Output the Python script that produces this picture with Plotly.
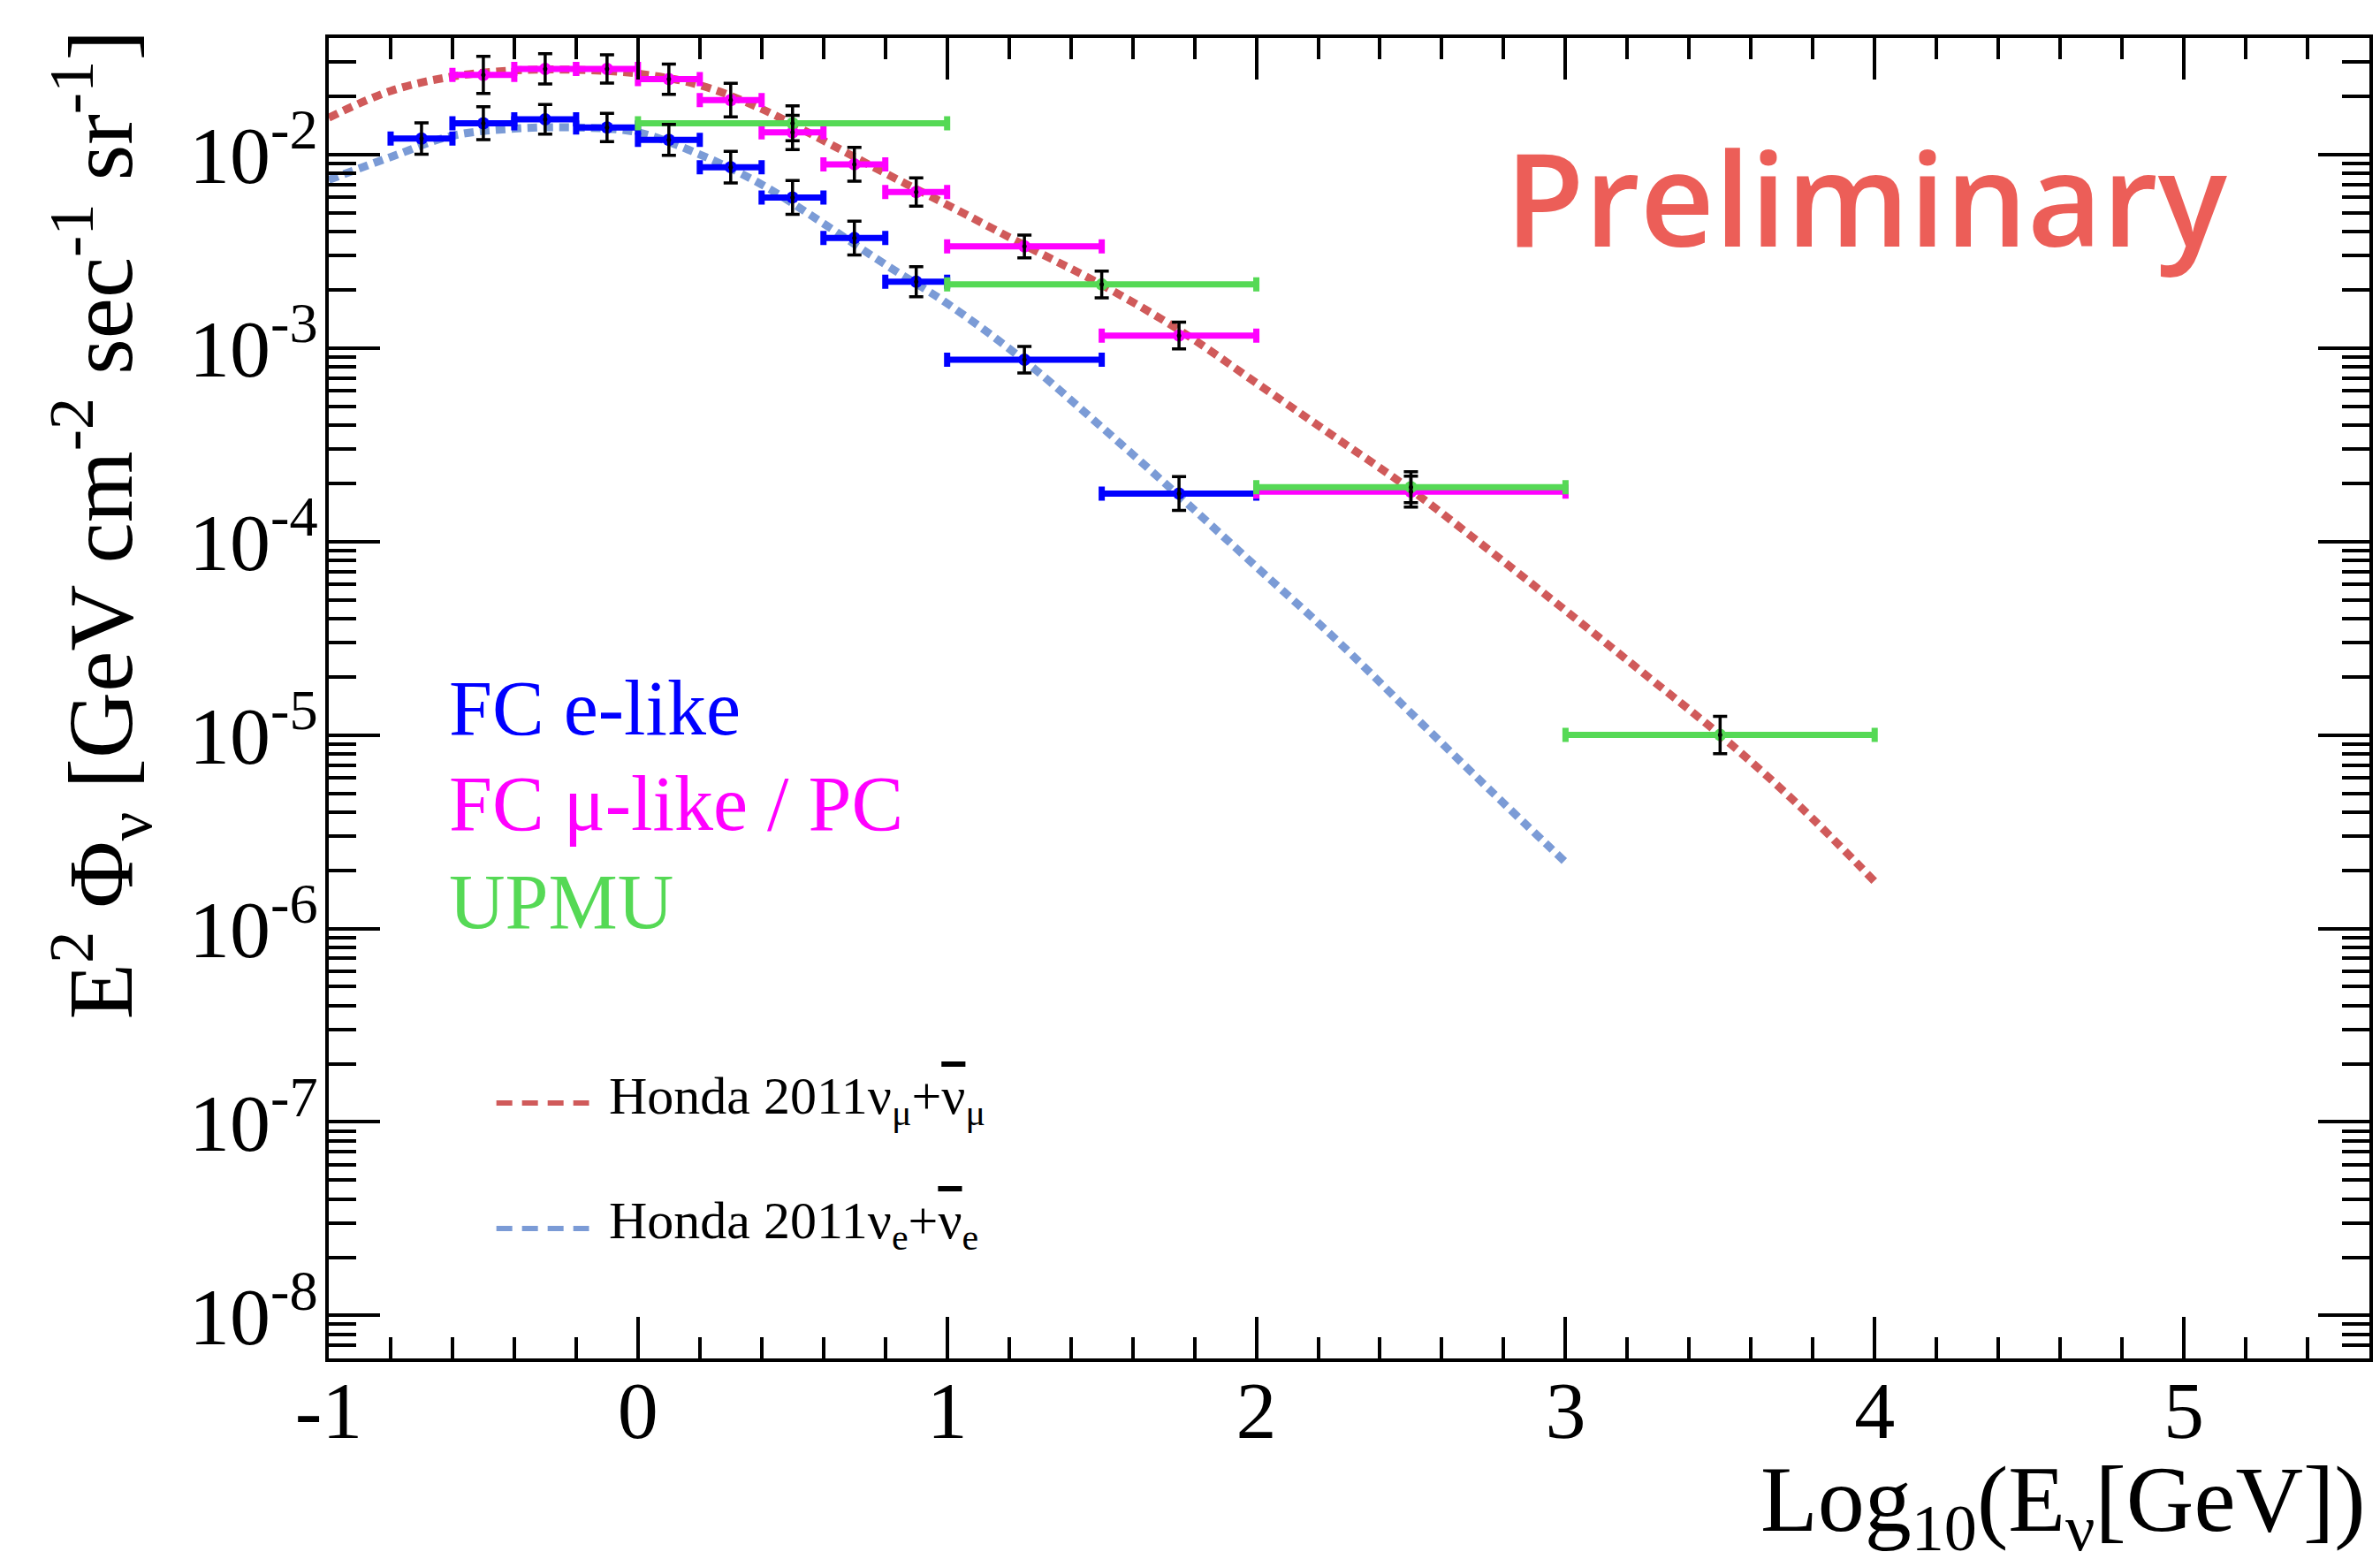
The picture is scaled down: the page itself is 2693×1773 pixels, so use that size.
import numpy as np
import plotly.graph_objects as go

# ---------------- data ----------------
# FC e-like
e_lo = [-0.8, -0.6, -0.4, -0.2, 0.0, 0.2, 0.4, 0.6, 0.8, 1.0, 1.5]
e_hi = [-0.6, -0.4, -0.2, 0.0, 0.2, 0.4, 0.6, 0.8, 1.0, 1.5, 2.0]
e_y = [0.0121, 0.0145, 0.0152, 0.0138, 0.0119, 0.0086, 0.0060, 0.0037, 0.0022, 0.00087, 0.000177]
e_err = [0.081, 0.085, 0.076, 0.073, 0.080, 0.082, 0.087, 0.087, 0.078, 0.069, 0.087]  # decades

# FC mu-like / PC
m_lo = [-0.6, -0.4, -0.2, 0.0, 0.2, 0.4, 0.6, 0.8, 1.0, 1.5, 2.0]
m_hi = [-0.4, -0.2, 0.0, 0.2, 0.4, 0.6, 0.8, 1.0, 1.5, 2.0, 3.0]
m_y = [0.0258, 0.0277, 0.0277, 0.0245, 0.0191, 0.0130, 0.0089, 0.0064, 0.00335, 0.00116, 0.000181]
m_err = [0.096, 0.078, 0.073, 0.078, 0.087, 0.089, 0.087, 0.073, 0.059, 0.069, 0.080]

# UPMU
u_lo = [0.0, 1.0, 2.0, 3.0]
u_hi = [1.0, 2.0, 3.0, 4.0]
u_y = [0.0145, 0.00213, 0.000191, 0.0000100]
u_err = [0.090, 0.069, 0.080, 0.096]

# Honda 2011 numu + numubar
hmu_x = [-1.0, -0.8, -0.6, -0.4, -0.2, 0.0, 0.2, 0.4, 0.6, 0.8, 1.0, 1.25, 1.5, 1.75,
         2.0, 2.25, 2.5, 2.75, 3.0, 3.25, 3.5, 3.75, 4.0]
hmu_y = [0.0155, 0.0213, 0.0253, 0.0272, 0.0274, 0.0262, 0.0228, 0.0172, 0.0118, 0.0080,
         0.0055, 0.00340, 0.00212, 0.00124, 0.00066, 0.00035, 0.000185, 0.000091,
         0.000044, 0.000021, 0.0000100, 0.0000044, 0.00000175]

# Honda 2011 nue + nuebar
he_x = [-1.0, -0.8, -0.6, -0.4, -0.2, 0.0, 0.2, 0.4, 0.6, 0.8, 1.0, 1.25, 1.5, 1.75,
        2.0, 2.25, 2.5, 2.75, 3.0]
he_y = [0.0074, 0.0097, 0.0125, 0.0136, 0.0138, 0.0130, 0.0100, 0.0070, 0.0044, 0.0027,
        0.0017, 0.00086, 0.00039, 0.000172, 0.000074, 0.000032, 0.000013, 0.0000053,
        0.0000022]

x_ticks = [-1, 0, 1, 2, 3, 4, 5]
x_ticktext = ["-1", "0", "1", "2", "3", "4", "5"]
y_exps = [-8, -7, -6, -5, -4, -3, -2]

# ---------------- styling ----------------
W, H = 2693, 1773
L, R, T, B = 372, 2685, 43, 1537
PW, PH = R - L, B - T

def px(xp):
    return (xp - L) / PW

def py(yp):
    return (B - yp) / PH

BLUE = "#0000FF"
MAG = "#FF00FF"
GRN = "#55D955"
RED_C = "#D05A5A"
BLUE_C = "#7B9BD6"
SERIF = "Liberation Serif"

fig = go.Figure()

# Honda curves
fig.add_trace(go.Scatter(x=hmu_x, y=hmu_y, mode="lines",
                         line=dict(color=RED_C, width=9, dash="11px,7px", shape="spline"),
                         showlegend=False))
fig.add_trace(go.Scatter(x=he_x, y=he_y, mode="lines",
                         line=dict(color=BLUE_C, width=9, dash="11px,7px", shape="spline"),
                         showlegend=False))


def series(lo, hi, y, err, color):
    lo, hi, y, err = map(np.array, (lo, hi, y, err))
    xc = (lo + hi) / 2
    fig.add_trace(go.Scatter(
        x=xc, y=y, mode="markers",
        marker=dict(color=color, size=14, line=dict(width=0)),
        error_x=dict(type="data", array=hi - xc, arrayminus=xc - lo, symmetric=False,
                     color=color, thickness=7, width=8),
        showlegend=False))
    return xc, y, err


blk = []
blk.append(series(e_lo, e_hi, e_y, e_err, BLUE))
blk.append(series(m_lo, m_hi, m_y, m_err, MAG))
blk.append(series(u_lo, u_hi, u_y, u_err, GRN))

for xc, y, err in blk:
    fig.add_trace(go.Scatter(
        x=xc, y=y, mode="markers",
        marker=dict(color="black", size=5, line=dict(width=0)),
        error_y=dict(type="data", array=y * (10 ** err - 1), arrayminus=y * (1 - 10 ** (-err)),
                     symmetric=False, color="black", thickness=3.5, width=8),
        showlegend=False))

# minor y tick positions
minor_y = [m * 10.0 ** e for e in range(-9, -1) for m in range(2, 10)]

fig.update_xaxes(
    range=[-1, 5.6], showline=True, linecolor="black", linewidth=4, mirror="allticks",
    ticks="inside", ticklen=47, tickwidth=3.5, tickcolor="black",
    tickmode="array", tickvals=x_ticks, ticktext=x_ticktext,
    tickfont=dict(family=SERIF, size=92, color="black"),
    ticklabelstandoff=-24,
    minor=dict(ticks="inside", ticklen=24, tickwidth=3.5, tickcolor="black", dtick=0.2,
               tick0=-1, showgrid=False),
    showgrid=False, zeroline=False,
)
fig.update_yaxes(
    type="log", range=[np.log10(6e-9), np.log10(0.04)],
    showline=True, linecolor="black", linewidth=4, mirror="allticks",
    ticks="inside", ticklen=58, tickwidth=3.5, tickcolor="black",
    tickmode="array", tickvals=[10.0 ** e for e in y_exps],
    ticktext=["10<sup>%d</sup>" % e for e in y_exps],
    tickfont=dict(family=SERIF, size=92, color="black"),
    ticklabelstandoff=-10,
    minor=dict(ticks="inside", ticklen=31, tickwidth=3.5, tickcolor="black",
               tickmode="array", tickvals=minor_y, showgrid=False),
    showgrid=False, zeroline=False,
)

ann = []
# Y axis title
ann.append(dict(x=px(113), y=py(593), xref="paper", yref="paper",
                text="E<sup>2</sup> Φ<sub>ν</sub> [GeV cm<sup>-2</sup> sec<sup>-1</sup> sr<sup>-1</sup>]",
                textangle=-90, showarrow=False, xanchor="center", yanchor="middle",
                font=dict(family=SERIF, size=104, color="black")))
# X axis title
ann.append(dict(x=px(2683), y=py(1704), xref="paper", yref="paper",
                text="Log<sub>10</sub>(E<sub>ν</sub>[GeV])",
                showarrow=False, xanchor="right", yanchor="middle",
                font=dict(family=SERIF, size=106, color="black")))
# Preliminary
ann.append(dict(x=px(1703), y=py(222), xref="paper", yref="paper", text="Preliminary",
                showarrow=False, xanchor="left", yanchor="middle",
                font=dict(family="Open Sans", size=146, color="#EC5E58", weight=600)))
# Series labels
for txt, col, yb in [("FC e-like", BLUE, 829), ("FC μ-like / PC", MAG, 937), ("UPMU", GRN, 1048)]:
    ann.append(dict(x=px(506), y=py(yb - 28), xref="paper", yref="paper", text=txt,
                    showarrow=False, xanchor="left", yanchor="middle",
                    font=dict(family=SERIF, size=88, color=col)))
# Honda legend
OV = '<span style="text-decoration:overline">ν</span>'
shapes = []
for txt, col, yl, yb in [("Honda 2011ν<sub>μ</sub>+" + OV + "<sub>μ</sub>", RED_C, 1248, 1262),
                         ("Honda 2011ν<sub>e</sub>+" + OV + "<sub>e</sub>", BLUE_C, 1390, 1403)]:
    ann.append(dict(x=px(688), y=py(yb - 18), xref="paper", yref="paper", text=txt,
                    showarrow=False, xanchor="left", yanchor="middle",
                    font=dict(family=SERIF, size=60, color="black")))
    shapes.append(dict(type="line", xref="paper", yref="paper", x0=px(562), x1=px(667),
                       y0=py(yl), y1=py(yl), line=dict(color=col, width=6, dash="18px,11px")))

fig.update_layout(
    width=W, height=H,
    margin=dict(l=L, r=W - R, t=T, b=H - B, pad=0),
    plot_bgcolor="white", paper_bgcolor="white",
    annotations=ann, shapes=shapes, showlegend=False,
)

fig.write_html("out.html")
